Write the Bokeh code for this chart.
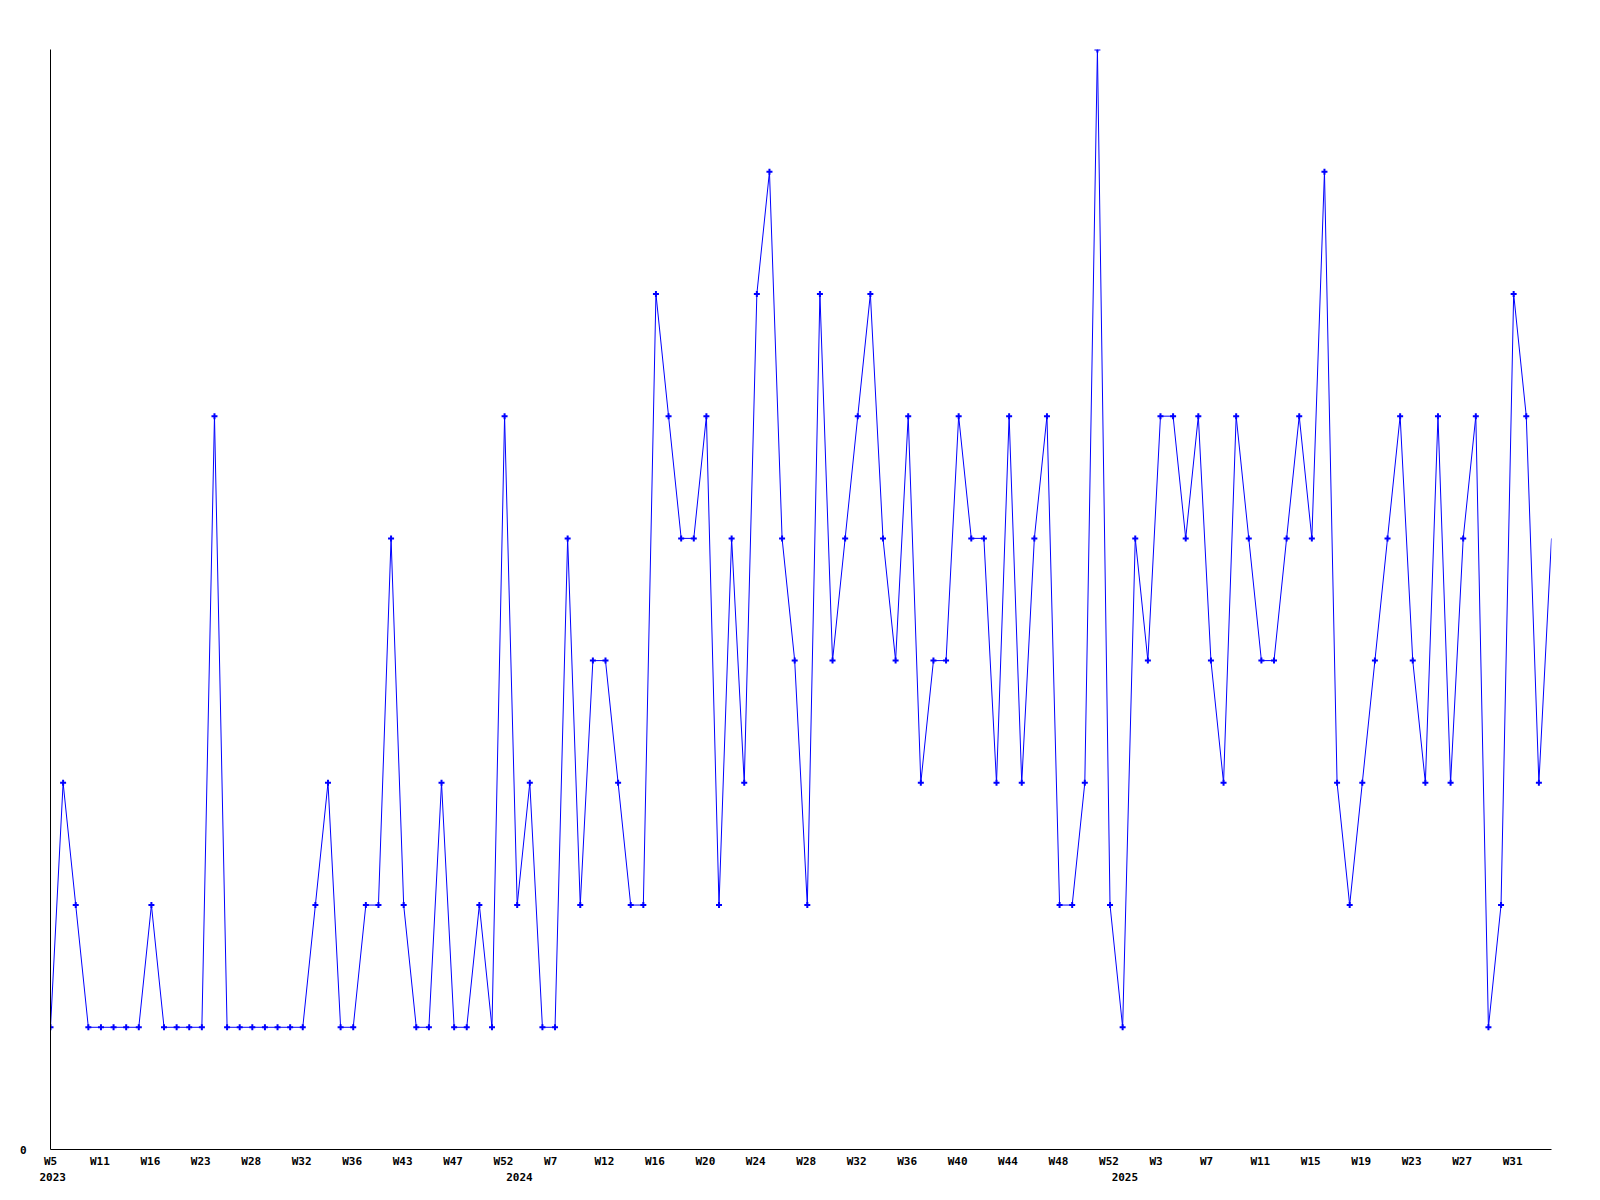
from bokeh.plotting import figure
from bokeh.models import FixedTicker, LinearAxis, Range1d
from bokeh.embed import file_html
from bokeh.resources import INLINE

# Weekly counts (one point per reported week)
values = [1, 3, 2, 1, 1, 1, 1, 1, 2, 1,
          1, 1, 1, 6, 1, 1, 1, 1, 1, 1,
          1, 2, 3, 1, 1, 2, 2, 5, 2, 1,
          1, 3, 1, 1, 2, 1, 6, 2, 3, 1,
          1, 5, 2, 4, 4, 3, 2, 2, 7, 6,
          5, 5, 6, 2, 5, 3, 7, 8, 5, 4,
          2, 7, 4, 5, 6, 7, 5, 4, 6, 3,
          4, 4, 6, 5, 5, 3, 6, 3, 5, 6,
          2, 2, 3, 9, 2, 1, 5, 4, 6, 6,
          5, 6, 4, 3, 6, 5, 4, 4, 5, 6,
          5, 8, 3, 2, 3, 4, 5, 6, 4, 3,
          6, 3, 5, 6, 1, 2, 7, 6, 3, 5]

# Week tick labels (every 4th point)
week_labels = ["W5", "W11", "W16", "W23", "W28", "W32", "W36", "W43", "W47", "W52",
               "W7", "W12", "W16", "W20", "W24", "W28", "W32", "W36", "W40", "W44",
               "W48", "W52", "W3", "W7", "W11", "W15", "W19", "W23", "W27", "W31"]
label_step = 4

# Year labels and the index of the first point of each year
years = ["2023", "2024", "2025"]
year_start_index = [0, 37, 85]

y_labels = {0: "0"}

n = len(values)
xs = list(range(n))

FRAME_W = 1501
FRAME_H = 1100
p = figure(frame_width=FRAME_W, frame_height=FRAME_H,
           x_range=Range1d(0, n - 1), y_range=Range1d(0, 9),
           output_backend="svg", toolbar_location=None,
           min_border_left=50, min_border_top=49, min_border_right=30,
           min_border_bottom=0, background_fill_color="white")
p.outline_line_color = None
p.xgrid.visible = False
p.ygrid.visible = False

FONT = "DejaVu Sans Mono"
CHAR_W = 6.62          # px per character of the label font
LEFT_PAD = 11.0        # labels start this many px left of their point
px_per_unit = FRAME_W / (n - 1)


def left_aligned_pos(idx, text):
    # axis labels are centred on the tick; shift the tick so the text starts
    # LEFT_PAD px left of its point (kept inside the axis range)
    return max(0.0, idx + (-LEFT_PAD + len(text) * CHAR_W / 2.0) / px_per_unit)


week_idx = [i * label_step for i in range(len(week_labels))]
week_ticks = [left_aligned_pos(i, t) for i, t in zip(week_idx, week_labels)]
xa = p.xaxis[0]
xa.ticker = FixedTicker(ticks=week_ticks)
xa.major_label_overrides = {t: lab for t, lab in zip(week_ticks, week_labels)}
xa.major_tick_line_color = None
xa.minor_tick_line_color = None
xa.major_tick_out = 0
xa.major_tick_in = 0
xa.major_label_standoff = 5
xa.major_label_text_font = FONT
xa.major_label_text_font_style = "bold"
xa.major_label_text_font_size = "11px"
xa.major_label_text_color = "black"
xa.axis_line_color = "black"
xa.axis_line_width = 1

year_ticks = [left_aligned_pos(i, y) for i, y in zip(year_start_index, years)]
ya_ax = LinearAxis(ticker=FixedTicker(ticks=year_ticks),
                   major_label_overrides={t: y for t, y in zip(year_ticks, years)})
ya_ax.axis_line_color = None
ya_ax.major_tick_line_color = None
ya_ax.minor_tick_line_color = None
ya_ax.major_tick_out = 0
ya_ax.major_tick_in = 0
ya_ax.major_label_standoff = 2
ya_ax.major_label_text_font = FONT
ya_ax.major_label_text_font_style = "bold"
ya_ax.major_label_text_font_size = "11px"
ya_ax.major_label_text_color = "black"
p.add_layout(ya_ax, "below")

yax = p.yaxis[0]
yax.ticker = FixedTicker(ticks=list(y_labels.keys()))
yax.major_label_overrides = y_labels
yax.major_tick_line_color = None
yax.minor_tick_line_color = None
yax.major_tick_out = 0
yax.major_tick_in = 0
yax.major_label_standoff = 24
yax.major_label_text_font = FONT
yax.major_label_text_font_style = "bold"
yax.major_label_text_font_size = "11px"
yax.major_label_text_color = "black"
yax.axis_line_color = "black"
yax.axis_line_width = 1

p.line(xs, values, line_color="#0000ff", line_width=1)
p.scatter(xs[:-1], values[:-1], marker="cross", size=6, line_width=2,
          line_color="#0000ff")

open("out.html", "w").write(file_html(p, INLINE))
